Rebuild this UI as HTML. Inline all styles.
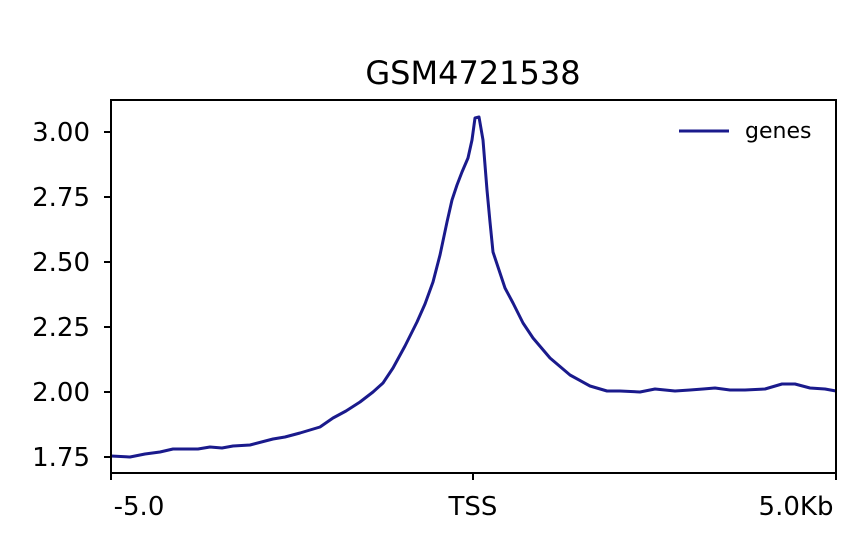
<!DOCTYPE html>
<html><head><style>body{margin:0;background:#fff}svg{display:block}text{font-family:"DejaVu Sans","Liberation Sans",sans-serif;fill:#000}</style></head>
<body>
<svg width="866" height="551" viewBox="0 0 866 551">
<rect width="866" height="551" fill="#fff"/>
<text x="473" y="84" font-size="32" text-anchor="middle">GSM4721538</text>
<polyline fill="none" stroke="#1a1a8c" stroke-width="3" stroke-linejoin="round" points="111,456 130,457 145,454 160,452 173,449 185,449 198,449 210,447 222,448 233,446 250,445 273,439 285,437 300,433 320,427 333,418 346,411 360,402 373,392 383,383 393,368 405,346 417,322 425,304 433,282 440,255 447,222 452,200 457,185 462,172 468,158 472,140 475,118 479,117 483,140 487,190 490,222 493,252 499,270 505,288 513,303 523,323 533,338 550,358 570,375 590,386 607,391 620,391 640,392 655,389 675,391 690,390 703,389 715,388 730,390 745,390 765,389 782,384 795,384 810,388 825,389 836,391"/>
<rect x="111" y="100" width="725" height="373" fill="none" stroke="#000" stroke-width="2"/>
<g stroke="#000" stroke-width="2">
<line x1="104" y1="132" x2="111" y2="132"/><line x1="104" y1="197" x2="111" y2="197"/><line x1="104" y1="262" x2="111" y2="262"/><line x1="104" y1="327" x2="111" y2="327"/><line x1="104" y1="392" x2="111" y2="392"/><line x1="104" y1="457" x2="111" y2="457"/>
<line x1="111" y1="473" x2="111" y2="480"/><line x1="473" y1="473" x2="473" y2="480"/><line x1="836" y1="473" x2="836" y2="480"/>
</g>
<g font-size="26" text-anchor="end">
<text x="90" y="141">3.00</text><text x="90" y="206">2.75</text><text x="90" y="271">2.50</text><text x="90" y="336">2.25</text><text x="90" y="401">2.00</text><text x="90" y="466">1.75</text>
</g>
<g font-size="26" text-anchor="middle">
<text x="139" y="515">-5.0</text><text x="473" y="515">TSS</text><text x="796" y="515">5.0Kb</text>
</g>
<line x1="679" y1="131" x2="729" y2="131" stroke="#1a1a8c" stroke-width="3"/>
<text x="745" y="138" font-size="22">genes</text>
</svg>
</body></html>
